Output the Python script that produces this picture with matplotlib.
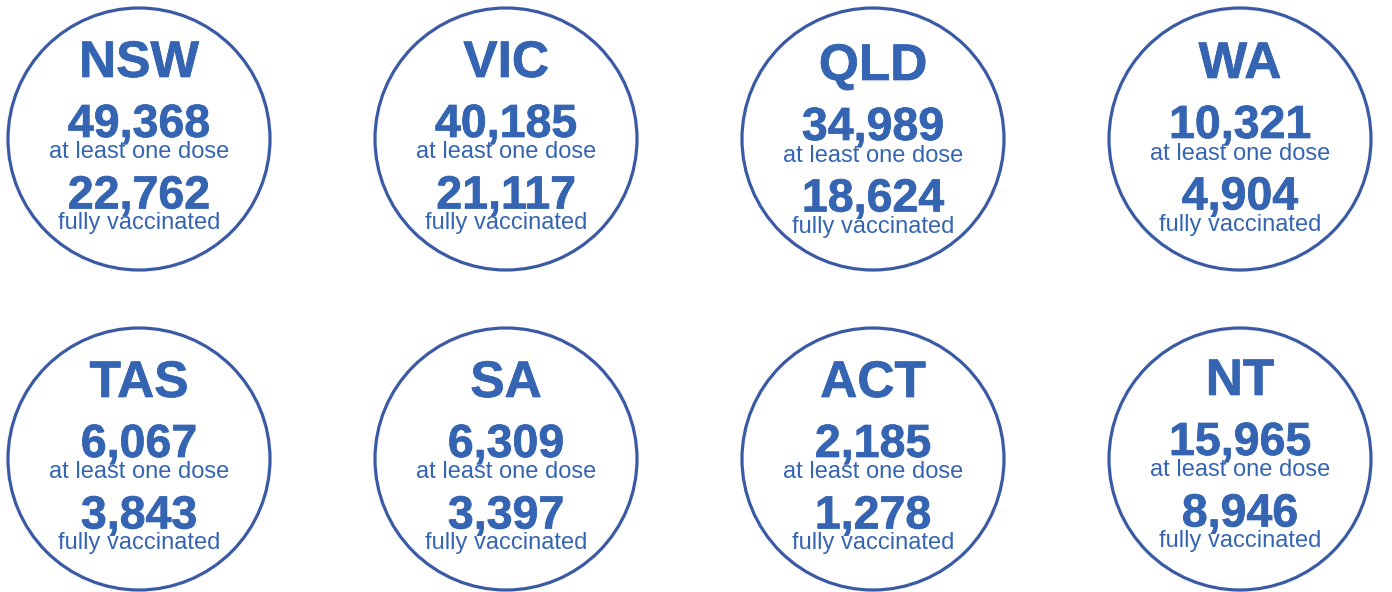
import matplotlib
matplotlib.use("Agg")
import matplotlib.pyplot as plt
from matplotlib.patches import Circle
import matplotlib.patheffects as pe

# Data
states = ["NSW", "VIC", "QLD", "WA", "TAS", "SA", "ACT", "NT"]
at_least_one_dose = [49368, 40185, 34989, 10321, 6067, 6309, 2185, 15965]
fully_vaccinated = [22762, 21117, 18624, 4904, 3843, 3397, 1278, 8946]
label_one = "at least one dose"
label_full = "fully vaccinated"

# Layout (pixels)
W, H = 1392, 592
col_x = [139, 506, 873, 1240]
row_y = [139, 459]
radius = 131
dy = [0, 0, 3, 1, 0, 0, 0, -2]

text_color = "#3565B2"
ring_color = "#3A5AA6"
font = ["Liberation Sans", "Arial", "DejaVu Sans"]
heavy = [pe.withStroke(linewidth=0.5, foreground=text_color)]

fig = plt.figure(figsize=(W / 100, H / 100), dpi=100)
ax = fig.add_axes([0, 0, 1, 1])
ax.set_xlim(0, W)
ax.set_ylim(H, 0)
ax.set_aspect("equal")
ax.axis("off")

for i, st in enumerate(states):
    cx = col_x[i % 4]
    cy = row_y[i // 4]
    ax.add_patch(Circle((cx, cy), radius, fill=False, edgecolor=ring_color, linewidth=2.3))
    o = dy[i]
    ax.text(cx, cy - 62 + o, st, ha="center", va="baseline", fontsize=37,
            fontweight="bold", color=text_color, family=font, path_effects=heavy)
    ax.text(cx, cy - 2 + o, f"{at_least_one_dose[i]:,}", ha="center", va="baseline",
            fontsize=33.5, fontweight="bold", color=text_color, family=font,
            path_effects=heavy)
    ax.text(cx, cy + 19.5 + o, label_one, ha="center", va="baseline", fontsize=17,
            color=text_color, family=font)
    ax.text(cx, cy + 69.5 + o, f"{fully_vaccinated[i]:,}", ha="center", va="baseline",
            fontsize=33.5, fontweight="bold", color=text_color, family=font,
            path_effects=heavy)
    ax.text(cx, cy + 90.5 + o, label_full, ha="center", va="baseline", fontsize=17,
            color=text_color, family=font)

fig.savefig("out.png", dpi=100, facecolor="white")
